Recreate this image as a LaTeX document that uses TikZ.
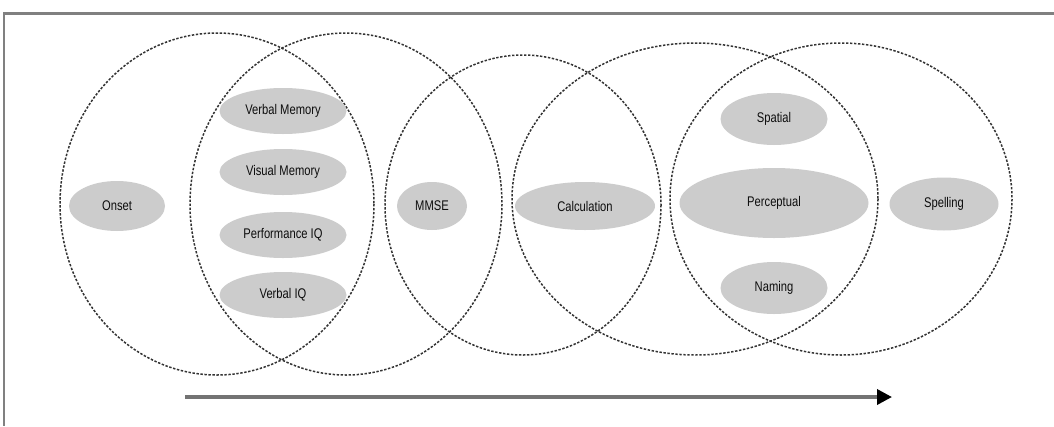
\documentclass[tikz,border=0pt]{standalone}
\usepackage{fontspec}
\setmainfont{Liberation Sans}[FakeStretch=0.8]
\usetikzlibrary{shapes.geometric,arrows.meta}
\begin{document}
\begin{tikzpicture}[x=1pt,y=-1pt,
  zone/.style={draw=black!80,line width=1.5pt,dash pattern=on 2.4pt off 1.6pt},
  item/.style={ellipse,fill=black!20,inner sep=0pt,font=\fontsize{14}{16}\selectfont,text=black!95},
  frameline/.style={draw=black!50}]
\useasboundingbox (0,0) rectangle (1054,426);
\fill[white] (0,0) rectangle (1054,426);
\draw[frameline,line width=3pt] (3,13) -- (1054,13);
\draw[frameline,line width=1.3pt] (4,13) -- (4,426);
% zones
\draw[zone] (217,204) ellipse [x radius=157,y radius=171];
\draw[zone] (346,204) ellipse [x radius=156,y radius=171];
\draw[zone] (523,205) ellipse [x radius=138,y radius=150];
\draw[zone] (695,199) ellipse [x radius=183,y radius=156];
\draw[zone] (841,199) ellipse [x radius=171,y radius=156];
% items
\node[item,minimum width=96pt,minimum height=50pt] (onset) at (117,206) {Onset};
\node[item,minimum width=127pt,minimum height=46pt] (vm) at (283,111) {Verbal Memory};
\node[item,minimum width=127pt,minimum height=46pt] (vim) at (283,172) {Visual Memory};
\node[item,minimum width=127pt,minimum height=46pt] (piq) at (283,235) {Performance IQ};
\node[item,minimum width=127pt,minimum height=46pt] (viq) at (283,295) {Verbal IQ};
\node[item,minimum width=70pt,minimum height=48pt] (mmse) at (432,206) {MMSE};
\node[item,minimum width=140pt,minimum height=48pt] (calc) at (585,206) {Calculation};
\node[item,minimum width=107pt,minimum height=52pt] (spatial) at (774,119) {Spatial};
\node[item,minimum width=189pt,minimum height=70pt] (perc) at (774,203) {Perceptual};
\node[item,minimum width=107pt,minimum height=52pt] (naming) at (774,288) {Naming};
\node[item,minimum width=109pt,minimum height=53pt] (spell) at (944,204) {Spelling};
% arrow
\coordinate (a0) at (185,397);
\coordinate (a1) at (892,397);
\draw[draw=black!55,line width=3.5pt,-{Triangle[length=15pt,width=15pt,color=black]}] (a0) -- (a1);
\end{tikzpicture}
\end{document}
